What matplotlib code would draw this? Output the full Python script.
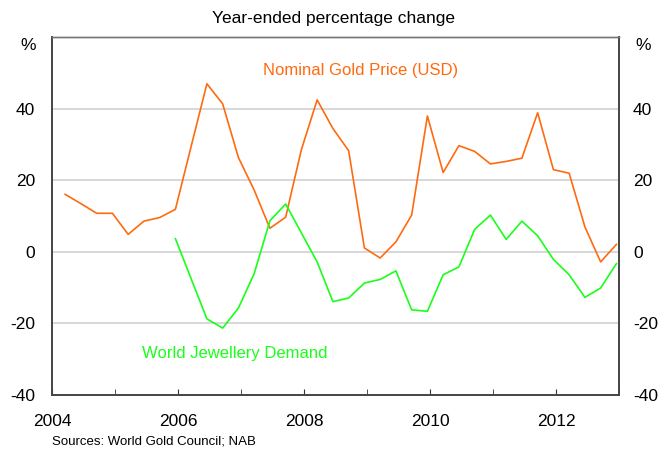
import numpy as np
import matplotlib
matplotlib.use('Agg')
import matplotlib.pyplot as plt

plt.rcParams['font.family'] = ['Liberation Sans', 'DejaVu Sans']
plt.rcParams['axes.unicode_minus'] = False

# quarter-end months, Mar-2004 .. Dec-2012
gold_start = (2004, 3)
gold_price = [16.1, 13.5, 10.8, 10.8,
              4.9, 8.6, 9.6, 11.9,
              29.5, 47.0, 41.4, 26.4,
              17.3, 6.6, 9.7, 28.6,
              42.5, 34.5, 28.3, 1.1,
              -1.7, 2.8, 10.3, 38.0,
              22.2, 29.7, 28.1, 24.6,
              25.3, 26.2, 38.9, 23.0,
              22.0, 7.0, -2.8, 2.1]

# Dec-2005 .. Dec-2012
jewel_start = (2005, 12)
jewel_demand = [3.7,
                -7.5, -18.7, -21.3, -15.7,
                -6.1, 8.7, 13.4, 5.3,
                -2.8, -13.9, -12.9, -8.7,
                -7.7, -5.3, -16.2, -16.6,
                -6.4, -4.2, 6.3, 10.3,
                3.5, 8.6, 4.5, -2.1,
                -6.4, -12.7, -10.1, -3.3]

yticks = [-40, -20, 0, 20, 40]
xlabels = [2004, 2006, 2008, 2010, 2012]


def quarter_x(start, n):
    y, m = start
    out = []
    for i in range(n):
        mm = m + 3 * i
        out.append(y + (mm - 1) // 12 + (((mm - 1) % 12) + 0.5) / 12)
    return np.array(out)


orange = '#ff6a10'
green = '#19ff19'

fig = plt.figure(figsize=(6.61, 4.51), dpi=100)
ax = fig.add_axes([0.0787, 0.1242, 0.8578, 0.7931])

ax.plot(quarter_x(gold_start, len(gold_price)), gold_price, color=orange, lw=1.2)
ax.plot(quarter_x(jewel_start, len(jewel_demand)), jewel_demand, color=green, lw=1.2)

ax.set_xlim(2004, 2013)
ax.set_ylim(-40, 60)
ax.set_yticks(yticks)
ax.yaxis.grid(True, color='#d4d4d4', lw=1.3)
ax.set_axisbelow(True)
ax.tick_params(axis='y', length=0, labelsize=12.5, pad=12)

ax2 = ax.twinx()
ax2.set_ylim(-40, 60)
ax2.set_yticks(yticks)
ax2.tick_params(axis='y', length=0, labelsize=12.5, pad=10)

ax.set_xticks(xlabels)
ax.set_xticks(range(2005, 2014, 2), minor=True)
ax.tick_params(axis='x', which='both', direction='in', length=4,
               color='#333333', labelsize=12.5, pad=14)

for a in (ax, ax2):
    for s in ['left', 'right', 'bottom']:
        a.spines[s].set_color('#444444')
        a.spines[s].set_linewidth(1.2)
    a.spines['top'].set_color('#777777')
    a.spines['top'].set_linewidth(1.0)

ax.text(2008.9, 50.6, 'Nominal Gold Price (USD)', color=orange,
        fontsize=12, ha='center', va='center')
ax.text(2006.9, -28.4, 'World Jewellery Demand', color=green,
        fontsize=12, ha='center', va='center')

fig.text(0.504, 0.958, 'Year-ended percentage change', ha='center',
         va='center', fontsize=12.5)
fig.text(0.043, 0.900, '%', ha='center', va='center', fontsize=12.5)
fig.text(0.973, 0.900, '%', ha='center', va='center', fontsize=12.5)
fig.text(0.079, 0.022, 'Sources: World Gold Council; NAB', ha='left',
         va='center', fontsize=9.5)

fig.savefig('out.png', dpi=100)
